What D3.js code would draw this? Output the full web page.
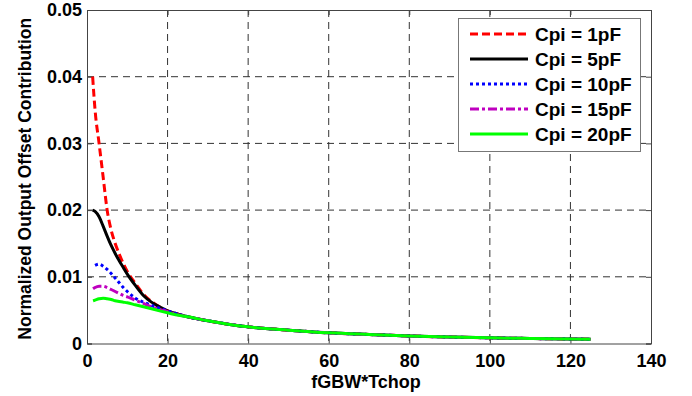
<!DOCTYPE html>
<html><head><meta charset="utf-8">
<script src="https://cdn.jsdelivr.net/npm/d3@7"></script>
<style>body{margin:0;background:#fff}svg{display:block}text{font-family:"Liberation Sans",Arial,Helvetica,sans-serif;font-weight:bold;fill:#000}</style>
</head><body>
<svg id="c" width="692" height="396"></svg>
<script>
// ---- data ----
const xTicks = [0,20,40,60,80,100,120,140];
const yTicks = [0,0.01,0.02,0.03,0.04,0.05];
const yTickLabels = ["0","0.01","0.02","0.03","0.04","0.05"];
const seriesNames = ["Cpi = 1pF","Cpi = 5pF","Cpi = 10pF","Cpi = 15pF","Cpi = 20pF"];
const tailX = [30,35,40,50,60,70,80,90,100,110,120,125];
const tailY = [0.0034,0.0029,0.0025,0.0020,0.0016,0.00135,0.00113,0.00097,0.00085,0.00075,0.00068,0.00064];
const x1pF = [1.4,2,3,4,5,6,7,8,9,10,12,14,16,18,20,22,25];
const y1pF = [0.040,0.035,0.030,0.025,0.020,0.0170,0.0150,0.0134,0.0120,0.0108,0.0090,0.0074,0.0063,0.0055,0.0049,0.0045,0.0040];
const x5pF = [1.4,2,3,4,5,6,7,8,9,10,12,14,16,18,20,22,25];
const y5pF = [0.0200,0.0198,0.0190,0.0176,0.0161,0.0147,0.0135,0.0124,0.0114,0.0104,0.0087,0.0072,0.0062,0.0055,0.0049,0.0045,0.0040];
const x10pF = [2,3,4,5,6,7,8,9,10,12,14,16,18,20,22,25];
const y10pF = [0.0117,0.0119,0.0116,0.0111,0.0105,0.0098,0.0091,0.0084,0.0078,0.0068,0.0062,0.0057,0.0053,0.0049,0.0045,0.0040];
const x15pF = [1.5,2,3,4,5,6,7,8,9,10,12,14,16,18,20,22,25];
const y15pF = [0.0082,0.0084,0.0086,0.0086,0.0084,0.0081,0.0078,0.0075,0.0072,0.0070,0.0065,0.0060,0.0055,0.0051,0.0048,0.0044,0.0040];
const x20pF = [1.5,2,3,4,5,6,7,8,9,10,12,14,16,18,20,22,25];
const y20pF = [0.0064,0.0065,0.0067,0.0068,0.0067,0.0066,0.0064,0.0063,0.0062,0.0061,0.0058,0.0055,0.0052,0.0049,0.0046,0.0043,0.0040];

const colors = ["#ff0000","#000000","#0000ff","#bf00bf","#00ff00"];
const dashes = ["8,4",null,"3,3","9,3,3,3",null];

const svg = d3.select("#c");
const L=87, R=651, T=10, B=343.5;
const x = d3.scaleLinear().domain([0,140]).range([L,R]);
const y = d3.scaleLinear().domain([0,0.05]).range([B,T]);

// grid
const g = svg.append("g");
g.selectAll(".vg").data(xTicks.slice(1,-1)).enter().append("line")
 .attr("x1",d=>x(d)).attr("x2",d=>x(d)).attr("y1",T).attr("y2",B)
 .attr("stroke","#333").attr("stroke-width",1).attr("stroke-dasharray","7,5");
g.selectAll(".hg").data(yTicks.slice(1,-1)).enter().append("line")
 .attr("y1",d=>y(d)).attr("y2",d=>y(d)).attr("x1",L).attr("x2",R)
 .attr("stroke","#333").attr("stroke-width",1).attr("stroke-dasharray","7,5");

// axes
const xAxis = d3.axisBottom(x).tickValues(xTicks).tickSize(-5).tickPadding(10.5);
const yAxis = d3.axisLeft(y).tickValues(yTicks).tickSize(-5).tickPadding(5).tickFormat((d,i)=>yTickLabels[i]);
const xa = svg.append("g").attr("transform",`translate(0,${B})`).call(xAxis);
const ya = svg.append("g").attr("transform",`translate(${L},0)`).call(yAxis);
const xt = svg.append("g").attr("transform",`translate(0,${T})`).call(d3.axisTop(x).tickValues(xTicks).tickSize(-5).tickFormat(""));
const yr = svg.append("g").attr("transform",`translate(${R},0)`).call(d3.axisRight(y).tickValues(yTicks).tickSize(-5).tickFormat(""));
[xa,ya,xt,yr].forEach(a=>{a.selectAll("path,line").attr("stroke","#444").attr("stroke-width",1);a.selectAll("text").style("font-size","18px").style("font-family","Liberation Sans, Arial, sans-serif").style("font-weight","bold").attr("fill","#000");});

// lines
const clip = svg.append("clipPath").attr("id","clp").append("rect").attr("x",L).attr("y",T).attr("width",R-L).attr("height",B-T);
const series = [[x1pF,y1pF],[x5pF,y5pF],[x10pF,y10pF],[x15pF,y15pF],[x20pF,y20pF]].map(([xs,ys])=>
  xs.map((v,i)=>[v,ys[i]]).concat(tailX.map((v,i)=>[v,tailY[i]])));
const line = d3.line().x(d=>x(d[0])).y(d=>y(d[1])).curve(d3.curveMonotoneX);
const lg = svg.append("g").attr("clip-path","url(#clp)");
series.forEach((s,i)=>{
  lg.append("path").datum(s).attr("d",line).attr("fill","none")
   .attr("stroke",colors[i]).attr("stroke-width",3)
   .attr("stroke-dasharray",dashes[i]);
});

// axis titles
svg.append("text").attr("x",(L+R)/2 - 3).attr("y",382).attr("text-anchor","middle").attr("dominant-baseline","central")
 .style("font-size","18px").text("fGBW*Tchop");
svg.append("text").attr("transform",`translate(25,${(T+B)/2 + 2}) rotate(-90)`).attr("text-anchor","middle").attr("dominant-baseline","central")
 .style("font-size","17.5px").text("Normalized Output Offset Contribution");

// legend
const leg = svg.append("g");
leg.append("rect").attr("x",458.5).attr("y",18.5).attr("width",182).attr("height",133).attr("fill","#fff").attr("stroke","#777").attr("stroke-width",1);
const rowY = d3.scaleLinear().domain([0,4]).range([34,134]);
seriesNames.forEach((n,i)=>{
  leg.append("line").attr("x1",470).attr("x2",528).attr("y1",rowY(i)).attr("y2",rowY(i))
   .attr("stroke",colors[i]).attr("stroke-width",3).attr("stroke-dasharray",dashes[i]);
  leg.append("text").attr("x",535).attr("y",rowY(i)).attr("dominant-baseline","central").style("font-size","19px").text(n);
});
</script>
</body></html>
